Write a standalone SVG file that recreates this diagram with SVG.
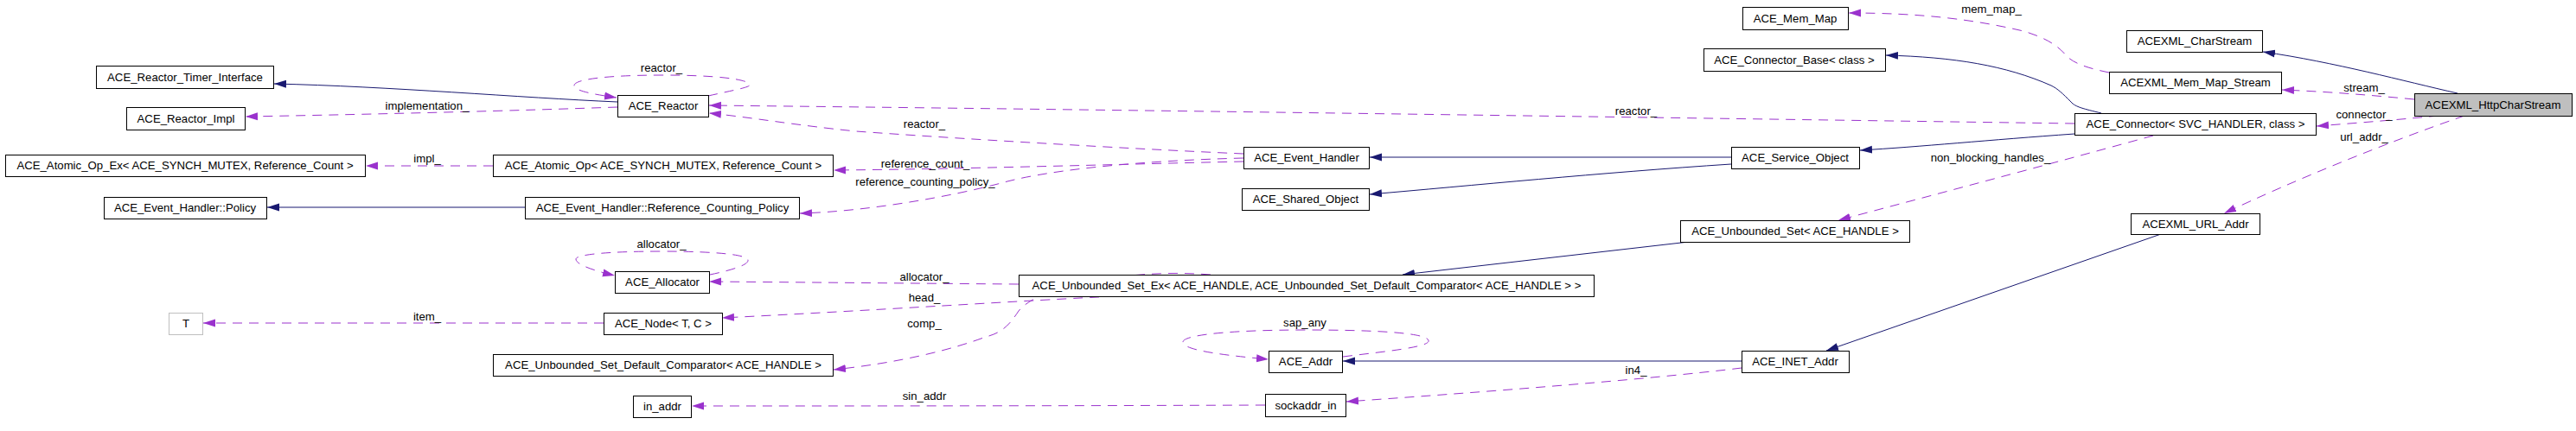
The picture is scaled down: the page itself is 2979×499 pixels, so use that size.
<svg xmlns="http://www.w3.org/2000/svg" width="2979" height="499" viewBox="0 0 2979 499">
<style>
  .box { fill: #ffffff; stroke: #000000; stroke-width: 1; }
  .gray { stroke: #bfbfbf; }
  .cur { fill: #bfbfbf; }
  .t { font-family: "Liberation Sans", Arial, sans-serif; font-size: 13.2px; fill: #000000; text-anchor: middle; }
  .inh { fill: none; stroke: #191970; stroke-width: 1; marker-end: url(#ah); }
  .use { fill: none; stroke: #9a32cd; stroke-width: 1; stroke-dasharray: 11,8; marker-end: url(#au); }
</style>
<defs>
  <marker id="ah" markerUnits="userSpaceOnUse" markerWidth="14" markerHeight="10" viewBox="0 0 14 10" refX="14" refY="5" orient="auto">
    <path d="M0,0.5 L14,5 L0,9.5 z" fill="#191970"/>
  </marker>
  <marker id="au" markerUnits="userSpaceOnUse" markerWidth="14" markerHeight="10" viewBox="0 0 14 10" refX="14" refY="5" orient="auto">
    <path d="M0,0.5 L14,5 L0,9.5 z" fill="#9a32cd"/>
  </marker>
</defs>
<rect width="2979" height="499" fill="#ffffff"/>
<g id="connectors">
  <path class="inh" d="M714,118 C600,113 450,100 317,97"/>
  <path class="inh" d="M607,240 L309,240"/>
  <path class="inh" d="M2002,182 L1584,182"/>
  <path class="inh" d="M2002,190 C1850,200 1700,215 1584,225"/>
  <path class="inh" d="M2399,155 C2300,162 2220,170 2151,174"/>
  <path class="inh" d="M2430,131 C2410,126 2400,124 2395,118 C2385,108 2380,103 2372,99 C2320,76 2260,66 2181,64"/>
  <path class="inh" d="M2842,108 C2780,94 2700,72 2617,60"/>
  <path class="inh" d="M1953,280 L1622,318"/>
  <path class="inh" d="M2499,271 L2112,406"/>
  <path class="inh" d="M2014,418 L1553,418"/>

  <path class="use" d="M714,124 C600,128 450,132 284,135"/>
  <path class="use" d="M819,111 C850,104 868,101 867,98 C866,92 830,87 767,87 C700,87 664,92 664,99 C664,105 685,109 713,113"/>
  <path class="use" d="M2399,143 C1900,136 1300,127 820,122"/>
  <path class="use" d="M1438,178 C1300,172 1100,160 990,152 C920,145 870,136 820,131"/>
  <path class="use" d="M1438,187 C1300,190 1100,196 964,197"/>
  <path class="use" d="M1438,183 C1320,186 1220,196 1165,210 C1100,228 1000,245 925,247"/>
  <path class="use" d="M570,192 L423,192"/>
  <path class="use" d="M821,318 C850,312 866,306 865,301 C864,295 830,291 765,291 C700,291 666,295 666,300 C666,306 685,313 711,319"/>
  <path class="use" d="M1178,329 C1050,328 950,327 820,326"/>
  <path class="use" d="M1290,343 C1200,347 1000,360 835,368"/>
  <path class="use" d="M1400,318 C1350,314 1300,318 1260,326 C1220,334 1190,345 1178,360 C1168,375 1160,385 1140,390 C1100,405 1040,420 964,428"/>
  <path class="use" d="M698,374 L235,374"/>
  <path class="use" d="M2014,426 C1900,440 1700,455 1557,465"/>
  <path class="use" d="M1463,469 C1200,470 1000,470 800,470"/>
  <path class="use" d="M1553,413 C1600,407 1655,402 1652,394 C1649,386 1600,382 1510,382 C1420,382 1368,388 1368,396 C1368,404 1400,410 1467,416"/>
  <path class="use" d="M2490,157 C2400,182 2250,222 2126,255"/>
  <path class="use" d="M2792,115 C2740,110 2690,106 2639,104"/>
  <path class="use" d="M2820,134 C2780,138 2730,142 2679,146"/>
  <path class="use" d="M2850,134 C2760,165 2650,210 2572,247"/>
  <path class="use" d="M2439,84 C2420,80 2400,75 2390,65 C2378,50 2360,42 2340,36 C2280,22 2220,15 2138,15"/>

  <text class="t" x="494" y="127">implementation_</text>
  <text class="t" x="765" y="83">reactor_</text>
  <text class="t" x="1892" y="133">reactor_</text>
  <text class="t" x="1069" y="148">reactor_</text>
  <text class="t" x="1070" y="194">reference_count_</text>
  <text class="t" x="1070" y="215">reference_counting_policy_</text>
  <text class="t" x="494" y="188">impl_</text>
  <text class="t" x="765" y="287">allocator_</text>
  <text class="t" x="1069" y="325">allocator_</text>
  <text class="t" x="1069" y="349">head_</text>
  <text class="t" x="1069" y="379">comp_</text>
  <text class="t" x="494" y="371">item_</text>
  <text class="t" x="1892" y="433">in4_</text>
  <text class="t" x="1069" y="463">sin_addr</text>
  <text class="t" x="1509" y="378">sap_any</text>
  <text class="t" x="2302" y="187">non_blocking_handles_</text>
  <text class="t" x="2734" y="106">stream_</text>
  <text class="t" x="2734" y="137">connector_</text>
  <text class="t" x="2734" y="163">url_addr_</text>
  <text class="t" x="2303" y="15">mem_map_</text>
</g>
<g id="n_timer"><rect class="box" x="111.5" y="76.5" width="205" height="26"/><text class="t" x="214" y="94">ACE_Reactor_Timer_Interface</text></g>
<g id="n_impl"><rect class="box" x="146.5" y="124.5" width="137" height="26"/><text class="t" x="215" y="142">ACE_Reactor_Impl</text></g>
<g id="n_atomic_ex"><rect class="box" x="6.5" y="179.5" width="416" height="25"/><text class="t" x="214" y="196">ACE_Atomic_Op_Ex&lt; ACE_SYNCH_MUTEX, Reference_Count &gt;</text></g>
<g id="n_policy"><rect class="box" x="120.5" y="228.5" width="188" height="25"/><text class="t" x="214" y="245">ACE_Event_Handler::Policy</text></g>
<g id="n_T"><rect class="box gray" x="195.5" y="362.5" width="39" height="25"/><text class="t" x="215" y="379">T</text></g>
<g id="n_reactor"><rect class="box" x="714.5" y="110.5" width="105" height="25"/><text class="t" x="767" y="127">ACE_Reactor</text></g>
<g id="n_atomic"><rect class="box" x="570.5" y="179.5" width="393" height="25"/><text class="t" x="767" y="196">ACE_Atomic_Op&lt; ACE_SYNCH_MUTEX, Reference_Count &gt;</text></g>
<g id="n_rcp"><rect class="box" x="607.5" y="228.5" width="317" height="25"/><text class="t" x="766" y="245">ACE_Event_Handler::Reference_Counting_Policy</text></g>
<g id="n_allocator"><rect class="box" x="711.5" y="314.5" width="109" height="25"/><text class="t" x="766" y="331">ACE_Allocator</text></g>
<g id="n_node"><rect class="box" x="698.5" y="362.5" width="137" height="25"/><text class="t" x="767" y="379">ACE_Node&lt; T, C &gt;</text></g>
<g id="n_comparator"><rect class="box" x="570.5" y="410.5" width="393" height="25"/><text class="t" x="767" y="427">ACE_Unbounded_Set_Default_Comparator&lt; ACE_HANDLE &gt;</text></g>
<g id="n_in_addr"><rect class="box" x="732.5" y="458.5" width="67" height="25"/><text class="t" x="766" y="475">in_addr</text></g>
<g id="n_event_handler"><rect class="box" x="1438.5" y="170.5" width="145" height="25"/><text class="t" x="1511" y="187">ACE_Event_Handler</text></g>
<g id="n_shared"><rect class="box" x="1436.5" y="218.5" width="147" height="25"/><text class="t" x="1510" y="235">ACE_Shared_Object</text></g>
<g id="n_set_ex"><rect class="box" x="1178.5" y="318.5" width="665" height="25"/><text class="t" x="1511" y="335">ACE_Unbounded_Set_Ex&lt; ACE_HANDLE, ACE_Unbounded_Set_Default_Comparator&lt; ACE_HANDLE &gt; &gt;</text></g>
<g id="n_addr"><rect class="box" x="1467.5" y="406.5" width="85" height="25"/><text class="t" x="1510" y="423">ACE_Addr</text></g>
<g id="n_sockaddr"><rect class="box" x="1463.5" y="456.5" width="93" height="26"/><text class="t" x="1510" y="474">sockaddr_in</text></g>
<g id="n_connector_base"><rect class="box" x="1970.5" y="56.5" width="210" height="26"/><text class="t" x="2075" y="74">ACE_Connector_Base&lt; class &gt;</text></g>
<g id="n_mem_map"><rect class="box" x="2015.5" y="8.5" width="122" height="26"/><text class="t" x="2076" y="26">ACE_Mem_Map</text></g>
<g id="n_service"><rect class="box" x="2002.5" y="170.5" width="148" height="25"/><text class="t" x="2076" y="187">ACE_Service_Object</text></g>
<g id="n_connector"><rect class="box" x="2399.5" y="131.5" width="279" height="25"/><text class="t" x="2539" y="148">ACE_Connector&lt; SVC_HANDLER, class &gt;</text></g>
<g id="n_charstream"><rect class="box" x="2459.5" y="35.5" width="157" height="25"/><text class="t" x="2538" y="52">ACEXML_CharStream</text></g>
<g id="n_mmstream"><rect class="box" x="2439.5" y="83.5" width="199" height="25"/><text class="t" x="2539" y="100">ACEXML_Mem_Map_Stream</text></g>
<g id="n_set"><rect class="box" x="1943.5" y="255.5" width="265" height="25"/><text class="t" x="2076" y="272">ACE_Unbounded_Set&lt; ACE_HANDLE &gt;</text></g>
<g id="n_url"><rect class="box" x="2464.5" y="247.5" width="149" height="24"/><text class="t" x="2539" y="264">ACEXML_URL_Addr</text></g>
<g id="n_inet"><rect class="box" x="2014.5" y="406.5" width="124" height="25"/><text class="t" x="2076" y="423">ACE_INET_Addr</text></g>
<g id="n_http"><rect class="box cur" x="2792.5" y="108.5" width="182" height="26"/><text class="t" x="2883" y="126">ACEXML_HttpCharStream</text></g>
</svg>
